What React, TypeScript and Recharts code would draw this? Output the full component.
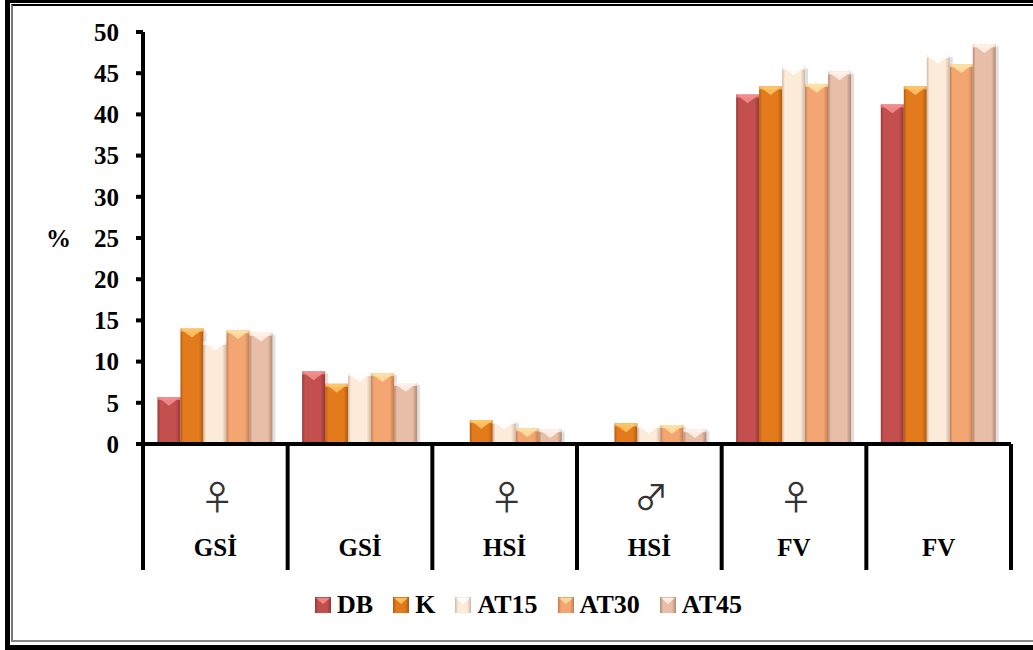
import React from 'react';
import { BarChart, Bar, XAxis, YAxis } from 'recharts';

const categories = ['GSİ', 'GSİ', 'HSİ', 'HSİ', 'FV', 'FV'];
const sexSymbols = ['♀', '', '♀', '♂', '♀', ''];
const seriesNames = ['DB', 'K', 'AT15', 'AT30', 'AT45'];
const DB = [5.7, 8.8, 0, 0, 42.4, 41.2];
const K = [14.0, 7.3, 2.9, 2.5, 43.4, 43.4];
const AT15 = [12.4, 8.6, 2.8, 2.3, 45.8, 47.2];
const AT30 = [13.8, 8.6, 1.9, 2.3, 43.7, 46.1];
const AT45 = [13.5, 7.4, 1.8, 1.8, 45.2, 48.5];
const yTicks = [0, 5, 10, 15, 20, 25, 30, 35, 40, 45, 50];

const seriesValues: Record<string, number[]> = { DB, K, AT15, AT30, AT45 };

const data = categories.map((c, i) => {
  const row: any = { cat: c, idx: i };
  seriesNames.forEach((s) => (row[s] = seriesValues[s][i]));
  return row;
});

const SERIF = 'Liberation Serif, Times New Roman, DejaVu Serif, serif';

const STYLES: Record<string, { body: string; edge: string; top: string }> = {
  DB: { body: '#C44F4F', edge: '#933838', top: '#F39090' },
  K: { body: '#E37A1C', edge: '#B05A0E', top: '#FFC86A' },
  AT15: { body: '#FDEBD9', edge: '#CDB8A4', top: '#FFFFFF' },
  AT30: { body: '#F4A672', edge: '#C47C4C', top: '#FFE3A6' },
  AT45: { body: '#E9BEA8', edge: '#B08874', top: '#FFF3EA' },
};

const W = 1033;
const H = 650;
const MARGIN = { top: 32, right: 22, bottom: 66, left: 0 };
const YAXIS_W = 143;
const XAXIS_H = 140;
const PLOT_W = W - MARGIN.left - MARGIN.right - YAXIS_W;
const HALF_BAND = PLOT_W / categories.length / 2;

const Defs = () => (
  <defs>
    {seriesNames.map((s) => (
      <linearGradient key={s} id={`g-${s}`} x1="0" y1="0" x2="1" y2="0">
        <stop offset="0%" stopColor={STYLES[s].edge} />
        <stop offset="12%" stopColor={STYLES[s].body} />
        <stop offset="80%" stopColor={STYLES[s].body} />
        <stop offset="100%" stopColor={STYLES[s].edge} />
      </linearGradient>
    ))}
  </defs>
);

const BevelShape = (props: any) => {
  const { x, y, width, height, dataKey } = props;
  if (!height || height <= 0 || !width) return null;
  const s = STYLES[dataKey];
  const cap = Math.min(height, width * 0.38);
  return (
    <g>
      <rect x={x + width} y={y + 2} width={3} height={height - 2} fill="#000" opacity={0.12} />
      <rect x={x} y={y} width={width} height={height} fill={`url(#g-${dataKey})`} />
      <rect x={x} y={y} width={width} height={Math.min(3, height)} fill={s.top} opacity={0.7} />
      <polygon points={`${x},${y} ${x + width},${y} ${x + width / 2},${y + cap}`} fill={s.top} opacity={0.85} />
    </g>
  );
};

const CatTick = (props: any) => {
  const { x, y, payload, index } = props;
  const half = payload && payload.offset ? payload.offset : HALF_BAND;
  const i = typeof index === 'number' ? index : payload.index;
  return (
    <g>
      <line x1={x - half} y1={y} x2={x - half} y2={y + 126} stroke="#000" strokeWidth={4} />
      {i === categories.length - 1 && (
        <line x1={x + half} y1={y} x2={x + half} y2={y + 126} stroke="#000" strokeWidth={4} />
      )}
      <text x={x + 2} y={y + 66} textAnchor="middle" fontFamily="Noto Sans CJK JP, DejaVu Sans, sans-serif" fontSize={34} fill="#333">
        {sexSymbols[i]}
      </text>
      <text x={x} y={y + 112} textAnchor="middle" fontFamily={SERIF} fontWeight="bold" fontSize={25} fill="#000">
        {payload.value}
      </text>
    </g>
  );
};

const LegendIcon = ({ name }: { name: string }) => {
  const s = STYLES[name];
  return (
    <svg width={16} height={16} style={{ display: 'block' }}>
      <defs>
        <linearGradient id={`lg-${name}`} x1="0" y1="0" x2="1" y2="0">
          <stop offset="0%" stopColor={s.edge} />
          <stop offset="20%" stopColor={s.body} />
          <stop offset="75%" stopColor={s.body} />
          <stop offset="100%" stopColor={s.edge} />
        </linearGradient>
      </defs>
      <rect x={0} y={0} width={16} height={16} fill={`url(#lg-${name})`} />
      <polygon points="1,1 15,1 8,7" fill={s.top} opacity={0.85} />
    </svg>
  );
};

export default function App() {
  return (
    <div style={{ position: 'absolute', left: 0, top: 0, width: W, height: H, overflow: 'hidden', background: '#fff' }}>
      <div
        style={{
          position: 'absolute', left: 5, top: 0, width: 1100, height: 642,
          borderLeft: '5px solid #000', borderTop: '3px solid #000', borderBottom: '6px solid #000',
        }}
      />
      <div
        style={{
          position: 'absolute', left: 11, top: 4, width: 1100, height: 634,
          borderLeft: '2px solid #777', borderTop: '2px solid #000', borderBottom: '2px solid #888',
        }}
      />
      <div style={{ position: 'absolute', left: 0, top: 0 }}>
        <BarChart width={W} height={H} data={data} margin={MARGIN} barCategoryGap="10%" barGap={0}>
          <Defs />
          <XAxis
            dataKey="cat"
            height={XAXIS_H}
            axisLine={{ stroke: '#000', strokeWidth: 4 }}
            tickLine={false}
            tickSize={0}
            tickMargin={0}
            interval={0}
            tick={<CatTick />}
          />
          <YAxis
            width={YAXIS_W}
            domain={[0, 50]}
            ticks={yTicks}
            interval={0}
            axisLine={{ stroke: '#000', strokeWidth: 4 }}
            tickLine={{ stroke: '#000', strokeWidth: 4 }}
            tickSize={7}
            tickMargin={17}
            tick={{ fill: '#000', fontSize: 25, fontWeight: 'bold', fontFamily: SERIF }}
            label={{ value: '%', position: 'insideLeft', offset: 46, fill: '#000', fontSize: 25, fontWeight: 'bold', fontFamily: SERIF }}
          />
          {seriesNames.map((s) => (
            <Bar key={s} dataKey={s} fill={STYLES[s].body} shape={<BevelShape />} isAnimationActive={false} />
          ))}
        </BarChart>
      </div>
      <div
        style={{
          position: 'absolute', left: 0, width: 1057, top: 590, display: 'flex', justifyContent: 'center',
          alignItems: 'center', gap: 20, fontFamily: SERIF, fontWeight: 'bold', fontSize: 26, color: '#000',
        }}
      >
        {seriesNames.map((s) => (
          <div key={s} style={{ display: 'flex', alignItems: 'center' }}>
            <LegendIcon name={s} />
            <span style={{ marginLeft: 6 }}>{s}</span>
          </div>
        ))}
      </div>
    </div>
  );
}
